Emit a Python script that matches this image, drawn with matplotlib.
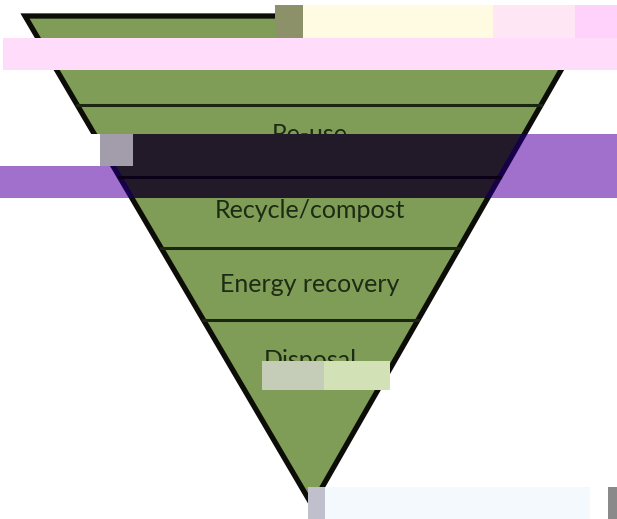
import numpy as np
import matplotlib.pyplot as plt
from matplotlib.patches import Polygon, Rectangle

# Levels of the waste hierarchy, top (most preferred) to bottom
levels = ["Prevention", "Re-use", "Recycle/compost", "Energy recovery", "Disposal"]
label_y = [60, 135, 210, 285, 360]
dividers = [105, 177, 248, 320]

top_y = 16
left_x, right_x = 25, 592
apex = (312, 505)

green = "#809d57"
edge = "#0d0d08"
line_col = "#1a2612"
text_col = "#1d2a14"


def edge_x(y):
    # x of left and right triangle edges at height y
    t = (y - top_y) / (apex[1] - top_y)
    return left_x + (apex[0] - left_x) * t, right_x + (apex[0] - right_x) * t


fig = plt.figure(figsize=(6.17, 5.19), dpi=100)
ax = fig.add_axes([0, 0, 1, 1])
ax.set_xlim(0, 617)
ax.set_ylim(519, 0)
ax.axis("off")

tri = [(left_x, top_y), (right_x, top_y), apex]
ax.add_patch(Polygon(tri, closed=True, facecolor=green, edgecolor=edge,
                     lw=3.8, joinstyle="miter", zorder=1))

for y in dividers:
    xl, xr = edge_x(y)
    ax.plot([xl, xr], [y, y], color=line_col, lw=2.2, zorder=2)

for name, y in zip(levels, label_y):
    ax.text(310, y, name, ha="center", va="center", fontsize=18,
            family="Lato", color=text_col, zorder=3)

# --- image corruption bands seen in the picture ---
# yellow/pink block top right
ax.add_patch(Rectangle((275, 5), 28, 33, color="#8d9169", lw=0, zorder=5))
ax.add_patch(Rectangle((303, 5), 190, 33, color="#fffbe2", lw=0, zorder=5))
ax.add_patch(Rectangle((493, 5), 124, 33, color="#ffe6f4", lw=0, zorder=5))
ax.add_patch(Rectangle((575, 5), 42, 33, color="#ffd2fb", lw=0, zorder=5))
# pink stripe
ax.add_patch(Rectangle((3, 38), 614, 32, color="#ffdcfa", lw=0, zorder=5))

# dark / purple stripe
ax.add_patch(Rectangle((0, 134), 617, 64, color="#a070cc", lw=0, zorder=5))
ax.add_patch(Rectangle((0, 134), 100, 32, color="white", lw=0, zorder=5))
ax.add_patch(Rectangle((100, 134), 33, 32, color="#a39cab", lw=0, zorder=5))

dark = Polygon(tri, closed=True, facecolor="#231a29", edgecolor="#16004a",
               lw=3.8, joinstyle="miter", zorder=6)
ax.add_patch(dark)
dark.set_clip_path(Rectangle((0, 166), 617, 32, transform=ax.transData))

dark2 = Polygon(tri, closed=True, facecolor="#231a29", edgecolor="#16004a",
                lw=3.8, joinstyle="miter", zorder=6)
ax.add_patch(dark2)
dark2.set_clip_path(Rectangle((133, 134), 484, 32, transform=ax.transData))

xl, xr = edge_x(177)
ax.plot([xl, xr], [177, 177], color="#0c0018", lw=2.2, zorder=7)

# washed-out patch over Disposal
ax.add_patch(Rectangle((262, 361), 128, 29, color="#d2e2b6", lw=0, zorder=5))
ax.add_patch(Rectangle((262, 361), 62, 29, color="#c5cdb8", lw=0, zorder=5))

# light strip at the bottom
ax.add_patch(Rectangle((325, 487), 265, 32, color="#f4f9fd", lw=0, zorder=5))
ax.add_patch(Rectangle((308, 487), 17, 32, color="#c0c0cc", lw=0, zorder=5))
ax.add_patch(Rectangle((608, 487), 9, 32, color="#8a8a8a", lw=0, zorder=5))

fig.savefig("out.png", dpi=100)
